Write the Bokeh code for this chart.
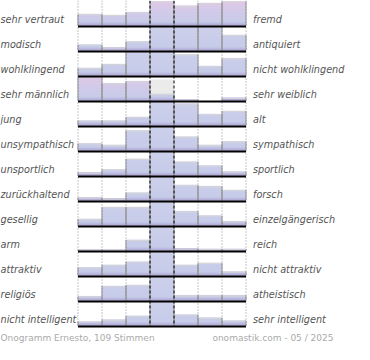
from bokeh.plotting import figure
from bokeh.models import Range1d
from bokeh.core.properties import value
from bokeh.embed import file_html
from bokeh.resources import INLINE

left_labels = ["sehr vertraut", "modisch", "wohlklingend", "sehr männlich", "jung",
               "unsympathisch", "unsportlich", "zurückhaltend", "gesellig", "arm",
               "attraktiv", "religiös", "nicht intelligent"]
right_labels = ["fremd", "antiquiert", "nicht wohlklingend", "sehr weiblich", "alt",
                "sympathisch", "sportlich", "forsch", "einzelgängerisch", "reich",
                "nicht attraktiv", "atheistisch", "sehr intelligent"]

# bar heights per row (percent of row height), 7 steps from left to right pole
v_vertraut = [47, 43, 55, 100, 82, 93, 100]
v_modisch = [24, 12, 37, 100, 100, 100, 64]
v_klang = [31, 47, 100, 100, 87, 39, 71]
v_geschlecht = [100, 71, 80, 27, 4, 0, 11]
v_alter = [20, 20, 35, 100, 91, 47, 60]
v_sympathie = [29, 23, 83, 100, 57, 23, 37]
v_sport = [12, 25, 69, 100, 57, 41, 16]
v_forsch = [12, 8, 32, 100, 64, 59, 43]
v_gesellig = [27, 76, 76, 100, 59, 41, 17]
v_reich = [3, 3, 44, 100, 8, 6, 6]
v_attraktiv = [33, 44, 57, 100, 44, 52, 16]
v_religion = [17, 60, 64, 100, 21, 21, 21]
v_intelligenz = [16, 24, 40, 100, 45, 32, 20]
rows = [v_vertraut, v_modisch, v_klang, v_geschlecht, v_alter, v_sympathie, v_sport,
        v_forsch, v_gesellig, v_reich, v_attraktiv, v_religion, v_intelligenz]
# grey shaded area above the middle bar (upper end, percent); 0 = none
mid_shade = [0, 0, 0, 87, 0, 0, 0, 0, 0, 0, 0, 0, 0]
pink_rows = [True, False, False, True, False, False, False, False, False, False, False, False, False]
footer_left = "Onogramm Ernesto, 109 Stimmen"
footer_right = "onomastik.com - 05 / 2025"

W, H = 354, 344
X0 = 77.5
CW = 24
R = 25
BH = R - 1
NB = 24

PURPLE = (166, 156, 208)
BLUE = (196, 201, 232)
PINK = (221, 198, 230)


def lerp(c1, c2, t):
    t = max(0.0, min(1.0, t))
    return "#%02x%02x%02x" % tuple(int(round(a + (b - a) * t)) for a, b in zip(c1, c2))


def band_color(t, pink):
    if t < 0.16:
        return lerp(PURPLE, BLUE, t / 0.16)
    if pink:
        return lerp(BLUE, PINK, (t - 0.16) / 0.84)
    return lerp(BLUE, (202, 206, 235), (t - 0.16) / 0.84)


p = figure(width=W, height=H, x_range=Range1d(0, W), y_range=Range1d(H, 0),
           output_backend="svg", toolbar_location=None, min_border=0,
           x_axis_location=None, y_axis_location=None)
p.grid.visible = False
p.outline_line_color = None
p.background_fill_color = "white"
p.border_fill_color = "white"

ql, qr, qt, qb, qc = [], [], [], [], []
el_x0, el_y0, el_x1, el_y1 = [], [], [], []
tl_x0, tl_x1, tl_y = [], [], []
sh_l, sh_r, sh_t, sh_b = [], [], [], []
for i, vals in enumerate(rows):
    base = (i + 1) * R
    for j, v in enumerate(vals):
        f = v / 100.0
        left = X0 + j * CW
        right = left + CW
        for k in range(NB):
            lo = k / NB
            if f <= lo:
                break
            hi = min((k + 1) / NB, f)
            ql.append(left)
            qr.append(right)
            qb.append(base - lo * BH)
            qt.append(base - hi * BH)
            qc.append(band_color((k + 0.5) / NB, pink_rows[i]))
        if f > 0:
            top = base - f * BH
            for xx in (left, right):
                el_x0.append(xx); el_x1.append(xx)
                el_y0.append(base); el_y1.append(top)
            tl_x0.append(left); tl_x1.append(right); tl_y.append(top + 0.5)
        if j == 3 and mid_shade[i] > 0:
            sh_l.append(left); sh_r.append(right)
            sh_b.append(base - f * BH); sh_t.append(base - mid_shade[i] / 100.0 * BH)

p.quad(left=sh_l, right=sh_r, top=sh_t, bottom=sh_b, fill_color="#ebebeb", line_color=None)
p.quad(left=ql, right=qr, top=qt, bottom=qb, fill_color=qc, line_color=qc, line_width=0.6)
p.segment(x0=tl_x0, y0=tl_y, x1=tl_x1, y1=tl_y, line_color="#d6d6d6", line_width=1)
p.segment(x0=el_x0, y0=el_y0, x1=el_x1, y1=el_y1, line_color="#9a9a9a", line_width=1)

chart_bottom = len(rows) * R
for k in range(8):
    xx = X0 + k * CW
    if k in (3, 4):
        p.segment(x0=[xx], y0=[0], x1=[xx], y1=[chart_bottom + 1], line_color="black",
                  line_width=1, line_dash="3 2")
    else:
        p.segment(x0=[xx], y0=[0], x1=[xx], y1=[chart_bottom + 1], line_color="#8a8a8a",
                  line_width=1, line_dash="1 2")

bases = [(i + 1) * R + 1 for i in range(len(rows))]
p.segment(x0=[X0] * len(rows), y0=bases, x1=[X0 + 7 * CW] * len(rows), y1=bases,
          line_color="black", line_width=2)

label_y = [(i + 1) * R - 6 for i in range(len(rows))]
p.text(x=[0] * len(rows), y=label_y, text=left_labels, text_font=value("DejaVu Sans"),
       text_font_style="italic", text_font_size="9.7px", text_color="#555555",
       text_baseline="middle", text_align="left")
p.text(x=[X0 + 7 * CW + 7] * len(rows), y=label_y, text=right_labels,
       text_font=value("DejaVu Sans"), text_font_style="italic", text_font_size="9.7px",
       text_color="#555555", text_baseline="middle", text_align="left")

p.text(x=[0], y=[chart_bottom + 12], text=[footer_left], text_font=value("DejaVu Sans"),
       text_font_size="9px", text_color="#aaaaaa", text_baseline="middle", text_align="left")
p.text(x=[333], y=[chart_bottom + 12], text=[footer_right], text_font=value("DejaVu Sans"),
       text_font_size="9px", text_color="#aaaaaa", text_baseline="middle", text_align="right")

open("out.html", "w").write(file_html(p, INLINE))
